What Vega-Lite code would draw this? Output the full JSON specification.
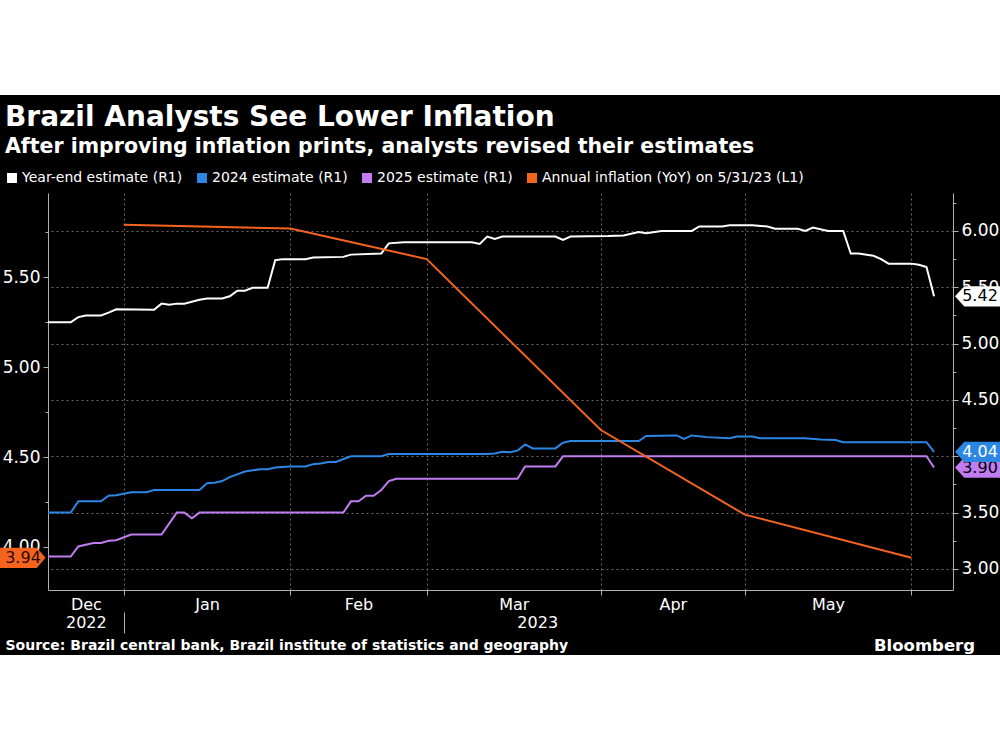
{
  "$schema": "https://vega.github.io/schema/vega-lite/v6.json",
  "width": 905,
  "height": 397,
  "autosize": {"type": "none"},
  "padding": {"left": 48, "top": 193, "right": 47, "bottom": 65},
  "background": "white",
  "config": {
    "font": "DejaVu Sans",
    "view": {"fill": "black", "stroke": "black", "strokeWidth": 196},
    "axis": {"domainColor": "#b0b0b0", "tickColor": "#b0b0b0", "labelColor": "white", "labelFontSize": 17, "gridColor": "#6a6a6a", "gridDash": [2, 3], "gridWidth": 1}
  },
  "title": {
    "text": "Brazil Analysts See Lower Inflation",
    "subtitle": "After improving inflation prints, analysts revised their estimates",
    "anchor": "start",
    "frame": "group",
    "dx": -43,
    "offset": 14,
    "color": "white",
    "subtitleColor": "white",
    "fontSize": 28,
    "subtitleFontSize": 20.5,
    "fontWeight": "bold",
    "subtitleFontWeight": "bold",
    "subtitlePadding": 5
  },
  "datasets": {
    "est": [
      {"series": "Year-end estimate (R1)", "day": 0, "value": 5.19},
      {"series": "Year-end estimate (R1)", "day": 3, "value": 5.19},
      {"series": "Year-end estimate (R1)", "day": 4, "value": 5.235},
      {"series": "Year-end estimate (R1)", "day": 5, "value": 5.25},
      {"series": "Year-end estimate (R1)", "day": 7, "value": 5.25},
      {"series": "Year-end estimate (R1)", "day": 8, "value": 5.275},
      {"series": "Year-end estimate (R1)", "day": 9, "value": 5.305},
      {"series": "Year-end estimate (R1)", "day": 14, "value": 5.3},
      {"series": "Year-end estimate (R1)", "day": 15, "value": 5.355},
      {"series": "Year-end estimate (R1)", "day": 16, "value": 5.345},
      {"series": "Year-end estimate (R1)", "day": 17, "value": 5.355},
      {"series": "Year-end estimate (R1)", "day": 18, "value": 5.355},
      {"series": "Year-end estimate (R1)", "day": 20, "value": 5.39},
      {"series": "Year-end estimate (R1)", "day": 21, "value": 5.4},
      {"series": "Year-end estimate (R1)", "day": 23, "value": 5.4},
      {"series": "Year-end estimate (R1)", "day": 24, "value": 5.42},
      {"series": "Year-end estimate (R1)", "day": 25, "value": 5.47},
      {"series": "Year-end estimate (R1)", "day": 26, "value": 5.47},
      {"series": "Year-end estimate (R1)", "day": 27, "value": 5.495},
      {"series": "Year-end estimate (R1)", "day": 29, "value": 5.495},
      {"series": "Year-end estimate (R1)", "day": 30, "value": 5.74},
      {"series": "Year-end estimate (R1)", "day": 31, "value": 5.75},
      {"series": "Year-end estimate (R1)", "day": 34, "value": 5.75},
      {"series": "Year-end estimate (R1)", "day": 35, "value": 5.765},
      {"series": "Year-end estimate (R1)", "day": 39, "value": 5.77},
      {"series": "Year-end estimate (R1)", "day": 40, "value": 5.79},
      {"series": "Year-end estimate (R1)", "day": 44, "value": 5.8},
      {"series": "Year-end estimate (R1)", "day": 45, "value": 5.89},
      {"series": "Year-end estimate (R1)", "day": 47, "value": 5.9},
      {"series": "Year-end estimate (R1)", "day": 56, "value": 5.9},
      {"series": "Year-end estimate (R1)", "day": 57, "value": 5.885},
      {"series": "Year-end estimate (R1)", "day": 58, "value": 5.95},
      {"series": "Year-end estimate (R1)", "day": 59, "value": 5.93},
      {"series": "Year-end estimate (R1)", "day": 60, "value": 5.95},
      {"series": "Year-end estimate (R1)", "day": 67, "value": 5.95},
      {"series": "Year-end estimate (R1)", "day": 68, "value": 5.92},
      {"series": "Year-end estimate (R1)", "day": 69, "value": 5.95},
      {"series": "Year-end estimate (R1)", "day": 74, "value": 5.955},
      {"series": "Year-end estimate (R1)", "day": 76, "value": 5.96},
      {"series": "Year-end estimate (R1)", "day": 78, "value": 5.99},
      {"series": "Year-end estimate (R1)", "day": 79, "value": 5.98},
      {"series": "Year-end estimate (R1)", "day": 81, "value": 6.0},
      {"series": "Year-end estimate (R1)", "day": 85, "value": 6.0},
      {"series": "Year-end estimate (R1)", "day": 86, "value": 6.04},
      {"series": "Year-end estimate (R1)", "day": 89, "value": 6.04},
      {"series": "Year-end estimate (R1)", "day": 90, "value": 6.05},
      {"series": "Year-end estimate (R1)", "day": 93, "value": 6.05},
      {"series": "Year-end estimate (R1)", "day": 95, "value": 6.04},
      {"series": "Year-end estimate (R1)", "day": 96, "value": 6.02},
      {"series": "Year-end estimate (R1)", "day": 99, "value": 6.02},
      {"series": "Year-end estimate (R1)", "day": 100, "value": 6.0},
      {"series": "Year-end estimate (R1)", "day": 101, "value": 6.03},
      {"series": "Year-end estimate (R1)", "day": 103, "value": 6.0},
      {"series": "Year-end estimate (R1)", "day": 105, "value": 6.0},
      {"series": "Year-end estimate (R1)", "day": 106, "value": 5.8},
      {"series": "Year-end estimate (R1)", "day": 107, "value": 5.8},
      {"series": "Year-end estimate (R1)", "day": 109, "value": 5.78},
      {"series": "Year-end estimate (R1)", "day": 110, "value": 5.75},
      {"series": "Year-end estimate (R1)", "day": 111, "value": 5.71},
      {"series": "Year-end estimate (R1)", "day": 114, "value": 5.71},
      {"series": "Year-end estimate (R1)", "day": 115, "value": 5.7},
      {"series": "Year-end estimate (R1)", "day": 116, "value": 5.68},
      {"series": "Year-end estimate (R1)", "day": 117, "value": 5.42},
      {"series": "2024 estimate (R1)", "day": 0, "value": 3.5},
      {"series": "2024 estimate (R1)", "day": 3, "value": 3.5},
      {"series": "2024 estimate (R1)", "day": 4, "value": 3.6},
      {"series": "2024 estimate (R1)", "day": 7, "value": 3.6},
      {"series": "2024 estimate (R1)", "day": 8, "value": 3.65},
      {"series": "2024 estimate (R1)", "day": 9, "value": 3.655},
      {"series": "2024 estimate (R1)", "day": 11, "value": 3.68},
      {"series": "2024 estimate (R1)", "day": 13, "value": 3.68},
      {"series": "2024 estimate (R1)", "day": 14, "value": 3.7},
      {"series": "2024 estimate (R1)", "day": 20, "value": 3.7},
      {"series": "2024 estimate (R1)", "day": 21, "value": 3.76},
      {"series": "2024 estimate (R1)", "day": 22, "value": 3.765},
      {"series": "2024 estimate (R1)", "day": 23, "value": 3.78},
      {"series": "2024 estimate (R1)", "day": 24, "value": 3.815},
      {"series": "2024 estimate (R1)", "day": 26, "value": 3.865},
      {"series": "2024 estimate (R1)", "day": 28, "value": 3.885},
      {"series": "2024 estimate (R1)", "day": 29, "value": 3.885},
      {"series": "2024 estimate (R1)", "day": 30, "value": 3.9},
      {"series": "2024 estimate (R1)", "day": 32, "value": 3.91},
      {"series": "2024 estimate (R1)", "day": 34, "value": 3.91},
      {"series": "2024 estimate (R1)", "day": 35, "value": 3.93},
      {"series": "2024 estimate (R1)", "day": 36, "value": 3.935},
      {"series": "2024 estimate (R1)", "day": 37, "value": 3.95},
      {"series": "2024 estimate (R1)", "day": 38, "value": 3.95},
      {"series": "2024 estimate (R1)", "day": 40, "value": 4.0},
      {"series": "2024 estimate (R1)", "day": 44, "value": 4.0},
      {"series": "2024 estimate (R1)", "day": 45, "value": 4.02},
      {"series": "2024 estimate (R1)", "day": 58, "value": 4.02},
      {"series": "2024 estimate (R1)", "day": 59, "value": 4.025},
      {"series": "2024 estimate (R1)", "day": 60, "value": 4.04},
      {"series": "2024 estimate (R1)", "day": 61, "value": 4.035},
      {"series": "2024 estimate (R1)", "day": 62, "value": 4.05},
      {"series": "2024 estimate (R1)", "day": 63, "value": 4.105},
      {"series": "2024 estimate (R1)", "day": 64, "value": 4.07},
      {"series": "2024 estimate (R1)", "day": 67, "value": 4.07},
      {"series": "2024 estimate (R1)", "day": 68, "value": 4.12},
      {"series": "2024 estimate (R1)", "day": 69, "value": 4.135},
      {"series": "2024 estimate (R1)", "day": 78, "value": 4.135},
      {"series": "2024 estimate (R1)", "day": 79, "value": 4.18},
      {"series": "2024 estimate (R1)", "day": 83, "value": 4.185},
      {"series": "2024 estimate (R1)", "day": 84, "value": 4.155},
      {"series": "2024 estimate (R1)", "day": 85, "value": 4.185},
      {"series": "2024 estimate (R1)", "day": 87, "value": 4.17},
      {"series": "2024 estimate (R1)", "day": 90, "value": 4.16},
      {"series": "2024 estimate (R1)", "day": 91, "value": 4.175},
      {"series": "2024 estimate (R1)", "day": 93, "value": 4.175},
      {"series": "2024 estimate (R1)", "day": 94, "value": 4.16},
      {"series": "2024 estimate (R1)", "day": 100, "value": 4.16},
      {"series": "2024 estimate (R1)", "day": 102, "value": 4.15},
      {"series": "2024 estimate (R1)", "day": 104, "value": 4.145},
      {"series": "2024 estimate (R1)", "day": 105, "value": 4.125},
      {"series": "2024 estimate (R1)", "day": 116, "value": 4.125},
      {"series": "2024 estimate (R1)", "day": 117, "value": 4.04},
      {"series": "2025 estimate (R1)", "day": 0, "value": 3.11},
      {"series": "2025 estimate (R1)", "day": 3, "value": 3.11},
      {"series": "2025 estimate (R1)", "day": 4, "value": 3.2},
      {"series": "2025 estimate (R1)", "day": 6, "value": 3.23},
      {"series": "2025 estimate (R1)", "day": 7, "value": 3.23},
      {"series": "2025 estimate (R1)", "day": 8, "value": 3.25},
      {"series": "2025 estimate (R1)", "day": 9, "value": 3.255},
      {"series": "2025 estimate (R1)", "day": 11, "value": 3.305},
      {"series": "2025 estimate (R1)", "day": 15, "value": 3.305},
      {"series": "2025 estimate (R1)", "day": 17, "value": 3.5},
      {"series": "2025 estimate (R1)", "day": 18, "value": 3.5},
      {"series": "2025 estimate (R1)", "day": 19, "value": 3.45},
      {"series": "2025 estimate (R1)", "day": 20, "value": 3.5},
      {"series": "2025 estimate (R1)", "day": 39, "value": 3.5},
      {"series": "2025 estimate (R1)", "day": 40, "value": 3.6},
      {"series": "2025 estimate (R1)", "day": 41, "value": 3.6},
      {"series": "2025 estimate (R1)", "day": 42, "value": 3.65},
      {"series": "2025 estimate (R1)", "day": 43, "value": 3.65},
      {"series": "2025 estimate (R1)", "day": 44, "value": 3.7},
      {"series": "2025 estimate (R1)", "day": 45, "value": 3.78},
      {"series": "2025 estimate (R1)", "day": 46, "value": 3.8},
      {"series": "2025 estimate (R1)", "day": 62, "value": 3.8},
      {"series": "2025 estimate (R1)", "day": 63, "value": 3.91},
      {"series": "2025 estimate (R1)", "day": 67, "value": 3.91},
      {"series": "2025 estimate (R1)", "day": 68, "value": 4.0},
      {"series": "2025 estimate (R1)", "day": 116, "value": 4.0},
      {"series": "2025 estimate (R1)", "day": 117, "value": 3.9}
    ],
    "infl": [
      {"series": "Annual inflation (YoY) on 5/31/23 (L1)", "day": 10, "value": 5.79},
      {"series": "Annual inflation (YoY) on 5/31/23 (L1)", "day": 32, "value": 5.77},
      {"series": "Annual inflation (YoY) on 5/31/23 (L1)", "day": 50, "value": 5.6},
      {"series": "Annual inflation (YoY) on 5/31/23 (L1)", "day": 73, "value": 4.65},
      {"series": "Annual inflation (YoY) on 5/31/23 (L1)", "day": 92, "value": 4.18},
      {"series": "Annual inflation (YoY) on 5/31/23 (L1)", "day": 114, "value": 3.94}
    ]
  },
  "resolve": {"scale": {"y": "independent"}, "axis": {"x": "independent"}},
  "layer": [
    {
      "data": {"name": "est"},
      "resolve": {"axis": {"x": "independent", "y": "independent"}},
      "layer": [
        {
          "mark": {"type": "line", "strokeWidth": 2},
          "encoding": {
            "x": {
              "field": "day", "type": "quantitative",
              "scale": {"domain": [0, 119.5], "nice": false, "zero": false},
              "axis": {
                "orient": "bottom",
                "values": [10, 32, 50, 73, 92, 114],
                "labels": false,
                "tickSize": 5,
                "grid": true,
                "title": "Source: Brazil central bank, Brazil institute of statistics and geography",
                "titleX": -43,
                "titleY": 55,
                "titleAlign": "left",
                "titleBaseline": "middle",
                "titleColor": "white",
                "titleFontSize": 14,
                "titleFontWeight": "bold"
              }
            },
            "y": {
              "field": "value", "type": "quantitative",
              "scale": {"domain": [2.813, 6.337], "nice": false, "zero": false},
              "axis": {
                "orient": "right",
                "values": [3, 3.5, 4, 4.5, 5, 5.5, 6],
                "format": ".2f",
                "grid": true,
                "tickSize": 5,
                "labelPadding": 3,
                "labelBaseline": "middle",
                "title": "Bloomberg",
                "titleAngle": 0,
                "titleX": -29,
                "titleY": 452,
                "titleAlign": "center",
                "titleBaseline": "middle",
                "titleFontSize": 16.5,
                "titleFontWeight": "bold",
                "titleColor": "white"
              }
            },
            "color": {
              "field": "series", "type": "nominal",
              "scale": {
                "domain": ["Year-end estimate (R1)", "2024 estimate (R1)", "2025 estimate (R1)", "Annual inflation (YoY) on 5/31/23 (L1)"],
                "range": ["#ffffff", "#2b87e3", "#c07cf0", "#f5641e"]
              },
              "legend": {
                "orient": "none",
                "legendX": -43,
                "legendY": -22,
                "direction": "horizontal",
                "title": null,
                "labelColor": "white",
                "labelFontSize": 14,
                "labelLimit": 400,
                "symbolType": "square",
                "symbolSize": 100,
                "symbolStrokeWidth": 0,
                "columnPadding": 12,
                "labelOffset": 3,
                "padding": 0,
                "encode": {"symbols": {"update": {"fill": {"scale": "color", "field": "value"}, "strokeWidth": {"value": 0}, "opacity": {"value": 1}}}}
              }
            }
          }
        },
        {
          "transform": [{"filter": "datum.day == 117 && datum.series != '2024 estimate (R1)'"}],
          "mark": {"type": "point", "shape": "M 0.09 0 L 0.5 -0.45 L 2.3 -0.45 L 2.3 0.45 L 0.5 0.45 Z", "size": 2025, "filled": true, "opacity": 1, "strokeWidth": 0},
          "encoding": {
            "x": {
              "datum": 119.5, "type": "quantitative",
              "axis": {
                "orient": "bottom",
                "values": [5, 21, 41, 61.5, 82.5, 103],
                "labelExpr": "datum.value == 5 ? 'Dec' : datum.value == 21 ? 'Jan' : datum.value == 41 ? 'Feb' : datum.value == 61.5 ? 'Mar' : datum.value == 82.5 ? 'Apr' : 'May'",
                "labelFlush": false,
                "labelOverlap": false,
                "labelBound": false,
                "labelFontSize": 16,
                "labelBaseline": "top",
                "labelAlign": "center",
                "labelPadding": 1,
                "tickSize": 5,
                "tickOpacity": 0,
                "domain": false,
                "grid": false,
                "title": null
              }
            },
            "y": {
              "field": "value", "type": "quantitative",
              "axis": {
                "orient": "right",
                "values": [3.25, 3.75, 4.25, 4.75, 5.25, 5.75, 6.25],
                "labels": false,
                "tickSize": 3,
                "domain": false,
                "grid": false,
                "title": null
              }
            },
            "color": {"field": "series", "type": "nominal", "legend": null}
          }
        },
        {
          "transform": [{"filter": "datum.day == 117 && datum.series != '2024 estimate (R1)'"}],
          "mark": {"type": "text", "dx": 27, "align": "center", "baseline": "middle", "fontSize": 16},
          "encoding": {
            "x": {"datum": 119.5, "type": "quantitative", "axis": null},
            "y": {"field": "value", "type": "quantitative", "axis": null},
            "text": {"field": "value", "type": "quantitative", "format": ".2f"},
            "color": {"value": "black"}
          }
        },
        {
          "transform": [{"filter": "datum.day == 117 && datum.series == '2024 estimate (R1)'"}],
          "mark": {"type": "point", "shape": "M 0.09 0 L 0.5 -0.45 L 2.3 -0.45 L 2.3 0.45 L 0.5 0.45 Z", "size": 2025, "filled": true, "opacity": 1, "strokeWidth": 0},
          "encoding": {
            "x": {"datum": 119.5, "type": "quantitative", "axis": null},
            "y": {"field": "value", "type": "quantitative", "axis": null},
            "color": {"field": "series", "type": "nominal", "legend": null}
          }
        },
        {
          "transform": [{"filter": "datum.day == 117 && datum.series == '2024 estimate (R1)'"}],
          "mark": {"type": "text", "dx": 27, "align": "center", "baseline": "middle", "fontSize": 16},
          "encoding": {
            "x": {"datum": 119.5, "type": "quantitative", "axis": null},
            "y": {"field": "value", "type": "quantitative", "axis": null},
            "text": {"field": "value", "type": "quantitative", "format": ".2f"},
            "color": {"value": "white"}
          }
        }
      ]
    },
    {
      "data": {"name": "infl"},
      "resolve": {"axis": {"x": "independent", "y": "independent"}},
      "layer": [
        {
          "mark": {"type": "line", "strokeWidth": 2},
          "encoding": {
            "x": {
              "field": "day", "type": "quantitative",
              "scale": {"domain": [0, 119.5], "nice": false, "zero": false},
              "axis": {
                "orient": "bottom",
                "offset": 22,
                "values": [5, 64.6],
                "labelExpr": "datum.value == 5 ? '2022' : '2023'",
                "domain": false,
                "grid": false,
                "tickSize": 21,
                "tickOpacity": 0,
                "labelPadding": -19,
                "labelBaseline": "top",
                "labelAlign": "center",
                "labelFlush": false,
                "labelOverlap": false,
                "labelBound": false,
                "labelFontSize": 16,
                "title": null
              }
            },
            "y": {
              "field": "value", "type": "quantitative",
              "scale": {"domain": [3.761, 5.967], "nice": false, "zero": false},
              "axis": {
                "orient": "left",
                "values": [4, 4.5, 5, 5.5],
                "format": ".2f",
                "grid": false,
                "tickSize": 5,
                "labelPadding": 3,
                "labelBaseline": "middle",
                "title": null
              }
            },
            "color": {"field": "series", "type": "nominal", "legend": null}
          }
        },
        {
          "transform": [{"filter": "datum.day == 114"}],
          "mark": {"type": "point", "shape": "M -0.11 0 L -0.5 -0.45 L -2.2 -0.45 L -2.2 0.45 L -0.5 0.45 Z", "size": 2025, "filled": true, "opacity": 1, "strokeWidth": 0},
          "encoding": {
            "x": {
              "datum": 0, "type": "quantitative",
              "axis": {
                "orient": "bottom",
                "offset": 22,
                "values": [10],
                "labels": false,
                "domain": false,
                "grid": false,
                "tickSize": 21,
                "title": null
              }
            },
            "y": {
              "field": "value", "type": "quantitative",
              "axis": {
                "orient": "left",
                "values": [4.25, 4.75, 5.25, 5.75],
                "labels": false,
                "tickSize": 3,
                "domain": false,
                "grid": false,
                "title": null
              }
            },
            "color": {"field": "series", "type": "nominal", "legend": null}
          }
        },
        {
          "transform": [{"filter": "datum.day == 114"}],
          "mark": {"type": "text", "dx": -25, "align": "center", "baseline": "middle", "fontSize": 16},
          "encoding": {
            "x": {"datum": 0, "type": "quantitative", "axis": null},
            "y": {"field": "value", "type": "quantitative", "axis": null},
            "text": {"field": "value", "type": "quantitative", "format": ".2f"},
            "color": {"value": "#2a0800"}
          }
        }
      ]
    }
  ]
}
